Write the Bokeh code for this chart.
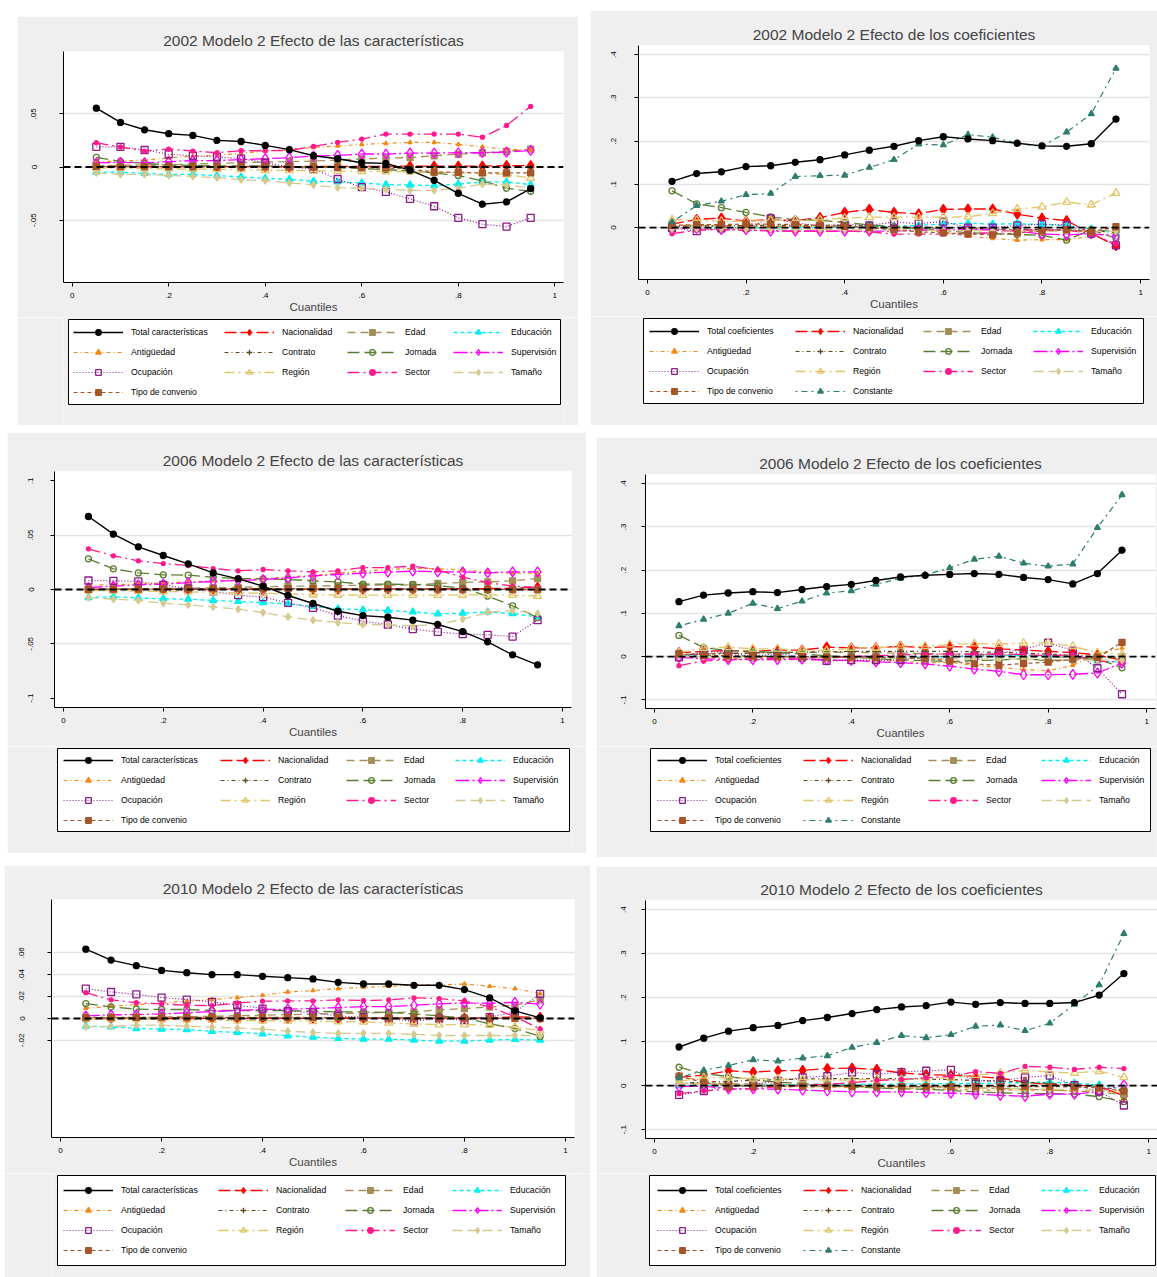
from bokeh.plotting import figure
from bokeh.layouts import column, row
from bokeh.models import (Spacer, Span, Legend, LegendItem, FixedTicker, Range1d,
                          CustomJSTickFormatter, BoxAnnotation)
from bokeh.embed import file_html
from bokeh.resources import INLINE

# ---------------------------------------------------------------- data
cuantiles = [0.05, 0.10, 0.15, 0.20, 0.25, 0.30, 0.35, 0.40, 0.45, 0.50,
             0.55, 0.60, 0.65, 0.70, 0.75, 0.80, 0.85, 0.90, 0.95]

# 2002 - efecto de las características
car02_total = [0.0553, 0.0419, 0.0350, 0.0313, 0.0297, 0.0250, 0.0240, 0.0203, 0.0163, 0.0106, 0.0078, 0.0040, 0.0034, -0.0030, -0.0125, -0.0247, -0.0350, -0.0328, -0.0203]
car02_nacionalidad = [0.0003, 0.0003, 0.0002, 0.0003, 0.0004, 0.0003, 0.0004, 0.0004, 0.0004, 0.0005, 0.0005, 0.0006, 0.0007, 0.0008, 0.0008, 0.0009, 0.0009, 0.0013, 0.0012]
car02_edad = [0.0010, 0.0016, 0.0020, 0.0020, 0.0030, 0.0034, 0.0040, 0.0047, 0.0050, 0.0056, 0.0066, 0.0075, 0.0084, 0.0088, 0.0106, 0.0120, 0.0134, 0.0147, 0.0169]
car02_educacion = [-0.0047, -0.0050, -0.0060, -0.0070, -0.0070, -0.0080, -0.0094, -0.0106, -0.0116, -0.0134, -0.0140, -0.0150, -0.0166, -0.0169, -0.0175, -0.0160, -0.0140, -0.0140, -0.0166]
car02_antiguedad = [0.0050, 0.0056, 0.0066, 0.0084, 0.0103, 0.0110, 0.0128, 0.0150, 0.0163, 0.0184, 0.0197, 0.0213, 0.0222, 0.0231, 0.0231, 0.0213, 0.0190, 0.0166, 0.0163]
car02_contrato = [0.0010, 0.0008, 0.0008, 0.0007, 0.0007, 0.0006, 0.0006, 0.0005, 0.0005, 0.0004, 0.0004, 0.0003, 0.0002, 0.0001, 0.0000, -0.0002, -0.0003, -0.0004, -0.0005]
car02_jornada = [0.0090, 0.0053, 0.0034, 0.0020, 0.0016, 0.0010, 0.0010, 0.0010, 0.0003, 0.0000, -0.0006, -0.0016, -0.0025, -0.0037, -0.0056, -0.0080, -0.0130, -0.0200, -0.0228]
car02_supervision = [0.0038, 0.0044, 0.0040, 0.0050, 0.0060, 0.0060, 0.0070, 0.0078, 0.0088, 0.0103, 0.0110, 0.0122, 0.0122, 0.0131, 0.0131, 0.0134, 0.0134, 0.0140, 0.0156]
car02_ocupacion = [0.0190, 0.0190, 0.0160, 0.0120, 0.0106, 0.0094, 0.0078, 0.0040, 0.0003, -0.0020, -0.0113, -0.0190, -0.0234, -0.0300, -0.0369, -0.0478, -0.0538, -0.0560, -0.0478]
car02_region = [-0.0010, -0.0012, -0.0015, -0.0018, -0.0020, -0.0022, -0.0025, -0.0030, -0.0032, -0.0035, -0.0038, -0.0040, -0.0042, -0.0045, -0.0050, -0.0055, -0.0060, -0.0070, -0.0103]
car02_sector = [0.0228, 0.0188, 0.0150, 0.0169, 0.0150, 0.0134, 0.0153, 0.0153, 0.0156, 0.0194, 0.0231, 0.0263, 0.0310, 0.0310, 0.0310, 0.0310, 0.0280, 0.0390, 0.0570]
car02_tamano = [-0.0056, -0.0070, -0.0070, -0.0080, -0.0088, -0.0100, -0.0120, -0.0128, -0.0150, -0.0169, -0.0194, -0.0200, -0.0210, -0.0219, -0.0219, -0.0200, -0.0160, -0.0170, -0.0197]
car02_convenio = [0.0005, 0.0004, 0.0004, 0.0003, 0.0003, 0.0002, 0.0002, 0.0001, 0.0000, -0.0002, -0.0004, -0.0006, -0.0010, -0.0020, -0.0047, -0.0050, -0.0056, -0.0056, -0.0056]

# 2002 - efecto de los coeficientes
coe02_total = [0.107, 0.125, 0.129, 0.141, 0.143, 0.151, 0.157, 0.168, 0.179, 0.188, 0.201, 0.210, 0.205, 0.201, 0.195, 0.189, 0.188, 0.194, 0.251]
coe02_nacionalidad = [0.008, 0.019, 0.022, 0.015, 0.019, 0.016, 0.023, 0.035, 0.042, 0.035, 0.032, 0.042, 0.043, 0.043, 0.031, 0.022, 0.016, -0.014, -0.042]
coe02_edad = [0.003, 0.004, 0.004, 0.004, 0.003, 0.003, 0.002, 0.002, 0.001, 0.000, -0.001, -0.002, -0.003, -0.004, -0.005, -0.006, -0.007, -0.008, -0.005]
coe02_educacion = [-0.002, -0.002, -0.001, -0.001, 0.000, 0.000, 0.001, 0.002, 0.002, 0.003, 0.005, 0.008, 0.010, 0.008, 0.009, 0.007, 0.005, -0.003, -0.012]
coe02_antiguedad = [0.005, 0.006, 0.005, 0.004, 0.004, 0.003, 0.002, 0.002, 0.001, -0.002, -0.005, -0.010, -0.020, -0.025, -0.029, -0.028, -0.028, -0.020, -0.012]
coe02_contrato = [0.003, 0.004, 0.004, 0.005, 0.005, 0.005, 0.005, 0.005, 0.004, 0.002, 0.001, 0.000, -0.002, -0.003, -0.004, -0.005, -0.005, -0.008, -0.010]
coe02_jornada = [0.085, 0.055, 0.046, 0.035, 0.025, 0.018, 0.017, 0.012, 0.006, 0.002, -0.002, -0.006, -0.012, -0.014, -0.016, -0.018, -0.029, -0.005, -0.025]
coe02_supervision = [-0.002, -0.002, -0.005, -0.005, -0.008, -0.008, -0.008, -0.008, -0.008, -0.008, -0.006, -0.006, -0.004, -0.006, -0.008, -0.015, -0.017, -0.014, -0.020]
coe02_ocupacion = [-0.001, -0.008, -0.002, 0.000, 0.021, 0.011, 0.004, 0.008, 0.005, 0.013, 0.009, 0.014, 0.000, 0.000, 0.005, 0.008, 0.006, -0.014, -0.041]
coe02_region = [0.018, 0.017, 0.015, 0.015, 0.017, 0.017, 0.018, 0.022, 0.024, 0.024, 0.024, 0.024, 0.025, 0.033, 0.043, 0.048, 0.059, 0.053, 0.080]
coe02_sector = [-0.014, -0.006, -0.004, -0.006, -0.007, -0.008, -0.008, -0.008, -0.010, -0.015, -0.015, -0.015, -0.014, -0.012, -0.006, -0.006, -0.006, -0.014, -0.038]
coe02_tamano = [-0.003, -0.002, -0.002, -0.003, -0.003, -0.004, -0.004, -0.005, -0.005, -0.006, -0.006, -0.007, -0.007, -0.008, -0.008, -0.008, -0.008, -0.008, -0.008]
coe02_convenio = [0.005, 0.007, 0.007, 0.008, 0.008, 0.007, 0.005, 0.003, 0.000, -0.005, -0.010, -0.012, -0.015, -0.017, -0.012, -0.008, -0.005, -0.010, 0.002]
coe02_constante = [0.013, 0.051, 0.061, 0.076, 0.079, 0.118, 0.120, 0.121, 0.139, 0.157, 0.193, 0.191, 0.215, 0.209, 0.195, 0.187, 0.221, 0.263, 0.368]

# 2006 - efecto de las características
car06_total = [0.0672, 0.0509, 0.0393, 0.0313, 0.0236, 0.0153, 0.0098, 0.0031, -0.0055, -0.0129, -0.0200, -0.0240, -0.0255, -0.0282, -0.0322, -0.0387, -0.0482, -0.0601, -0.0693]
car06_nacionalidad = [0.0000, 0.0000, 0.0001, 0.0001, 0.0001, 0.0001, 0.0002, 0.0002, 0.0002, 0.0003, 0.0003, 0.0004, 0.0005, 0.0006, 0.0007, 0.0008, 0.0009, 0.0012, 0.0020]
car06_edad = [0.0000, 0.0003, 0.0006, 0.0010, 0.0013, 0.0016, 0.0020, 0.0025, 0.0030, 0.0033, 0.0035, 0.0040, 0.0040, 0.0042, 0.0055, 0.0065, 0.0070, 0.0080, 0.0101]
car06_educacion = [-0.0074, -0.0067, -0.0077, -0.0086, -0.0089, -0.0101, -0.0110, -0.0120, -0.0132, -0.0156, -0.0178, -0.0187, -0.0193, -0.0206, -0.0224, -0.0218, -0.0206, -0.0221, -0.0252]
car06_antiguedad = [0.0040, 0.0045, 0.0050, 0.0060, 0.0070, 0.0080, 0.0090, 0.0100, 0.0115, 0.0130, 0.0150, 0.0170, 0.0185, 0.0195, 0.0190, 0.0180, 0.0160, 0.0150, 0.0150]
car06_contrato = [0.0002, 0.0002, 0.0003, 0.0003, 0.0004, 0.0004, 0.0005, 0.0005, 0.0005, 0.0005, 0.0004, 0.0004, 0.0003, 0.0003, 0.0002, 0.0002, 0.0001, 0.0000, -0.0002]
car06_jornada = [0.0282, 0.0190, 0.0153, 0.0135, 0.0132, 0.0113, 0.0101, 0.0098, 0.0092, 0.0080, 0.0070, 0.0049, 0.0049, 0.0046, 0.0037, 0.0012, -0.0061, -0.0150, -0.0258]
car06_supervision = [0.0018, 0.0031, 0.0043, 0.0049, 0.0064, 0.0074, 0.0083, 0.0092, 0.0107, 0.0126, 0.0138, 0.0150, 0.0160, 0.0169, 0.0163, 0.0163, 0.0153, 0.0163, 0.0163]
car06_ocupacion = [0.0083, 0.0080, 0.0074, 0.0043, 0.0009, -0.0018, -0.0052, -0.0070, -0.0123, -0.0169, -0.0240, -0.0291, -0.0322, -0.0365, -0.0390, -0.0411, -0.0417, -0.0433, -0.0282]
car06_region = [-0.0010, -0.0012, -0.0015, -0.0018, -0.0022, -0.0026, -0.0030, -0.0035, -0.0040, -0.0048, -0.0050, -0.0052, -0.0052, -0.0052, -0.0052, -0.0050, -0.0050, -0.0052, -0.0060]
car06_sector = [0.0374, 0.0310, 0.0264, 0.0239, 0.0221, 0.0193, 0.0172, 0.0184, 0.0172, 0.0163, 0.0172, 0.0202, 0.0202, 0.0215, 0.0181, 0.0113, 0.0064, 0.0031, 0.0018]
car06_tamano = [-0.0074, -0.0089, -0.0101, -0.0126, -0.0141, -0.0160, -0.0181, -0.0212, -0.0252, -0.0282, -0.0304, -0.0322, -0.0325, -0.0334, -0.0322, -0.0273, -0.0209, -0.0193, -0.0221]
car06_convenio = [0.0002, 0.0003, 0.0004, 0.0005, 0.0006, 0.0007, 0.0008, 0.0008, 0.0008, 0.0008, 0.0007, 0.0006, 0.0005, 0.0004, 0.0003, 0.0002, 0.0001, 0.0000, -0.0002]

# 2006 - efecto de los coeficientes
coe06_total = [0.127, 0.142, 0.147, 0.150, 0.148, 0.155, 0.162, 0.167, 0.176, 0.184, 0.188, 0.190, 0.192, 0.190, 0.183, 0.178, 0.168, 0.192, 0.246]
coe06_nacionalidad = [0.009, 0.012, 0.014, 0.012, 0.015, 0.015, 0.022, 0.020, 0.020, 0.024, 0.020, 0.023, 0.022, 0.018, 0.015, 0.012, 0.009, 0.004, -0.009]
coe06_edad = [0.004, 0.006, 0.008, 0.009, 0.010, 0.010, 0.010, 0.010, 0.009, 0.008, 0.007, 0.006, 0.005, 0.004, 0.002, 0.000, -0.002, -0.004, 0.000]
coe06_educacion = [0.003, 0.002, 0.002, 0.001, 0.001, 0.000, 0.000, 0.000, -0.001, -0.001, -0.001, 0.000, 0.001, 0.002, 0.003, 0.002, 0.000, -0.010, -0.013]
coe06_antiguedad = [0.000, -0.002, -0.004, -0.007, -0.007, -0.007, -0.008, -0.009, -0.010, -0.010, -0.015, -0.013, -0.020, -0.025, -0.030, -0.033, -0.020, 0.005, 0.020]
coe06_contrato = [0.005, 0.006, 0.007, 0.008, 0.009, 0.010, 0.011, 0.012, 0.012, 0.012, 0.012, 0.012, 0.011, 0.010, 0.008, 0.006, 0.003, 0.000, -0.005]
coe06_jornada = [0.049, 0.021, 0.014, 0.012, 0.009, 0.006, 0.002, -0.002, -0.005, -0.008, -0.009, -0.012, -0.009, -0.008, -0.005, -0.009, -0.008, -0.005, -0.026]
coe06_supervision = [-0.002, -0.005, -0.007, -0.007, -0.007, -0.006, -0.008, -0.009, -0.012, -0.014, -0.017, -0.022, -0.029, -0.034, -0.042, -0.042, -0.041, -0.038, -0.015]
coe06_ocupacion = [-0.002, 0.012, 0.009, 0.000, 0.008, -0.002, -0.010, -0.008, -0.008, -0.008, 0.000, 0.001, 0.001, 0.008, 0.017, 0.032, 0.014, -0.027, -0.087]
coe06_region = [0.009, 0.020, 0.022, 0.018, 0.018, 0.015, 0.014, 0.020, 0.020, 0.025, 0.024, 0.028, 0.030, 0.029, 0.031, 0.032, 0.024, 0.009, 0.005]
coe06_sector = [-0.021, -0.010, -0.008, -0.005, -0.005, -0.003, -0.002, 0.000, 0.002, 0.004, 0.005, 0.006, 0.006, 0.006, 0.005, 0.002, 0.004, -0.011, -0.013]
coe06_tamano = [0.001, 0.000, -0.001, -0.001, -0.002, -0.002, -0.003, -0.003, -0.004, -0.004, -0.005, -0.005, -0.006, -0.006, -0.006, -0.007, -0.007, -0.008, -0.008]
coe06_convenio = [0.007, 0.003, 0.002, 0.001, 0.000, 0.000, -0.001, -0.001, -0.002, -0.003, -0.004, -0.010, -0.017, -0.020, -0.016, -0.013, -0.006, -0.002, 0.033]
coe06_constante = [0.071, 0.086, 0.100, 0.123, 0.111, 0.128, 0.147, 0.152, 0.167, 0.181, 0.189, 0.205, 0.225, 0.232, 0.216, 0.209, 0.214, 0.298, 0.374]

# 2010 - efecto de las características
car10_total = [0.0633, 0.0533, 0.0482, 0.0439, 0.0418, 0.0400, 0.0400, 0.0385, 0.0373, 0.0361, 0.0330, 0.0315, 0.0315, 0.0303, 0.0303, 0.0264, 0.0188, 0.0070, 0.0006]
car10_nacionalidad = [0.0000, 0.0000, 0.0001, 0.0001, 0.0001, 0.0001, 0.0002, 0.0002, 0.0002, 0.0002, 0.0002, 0.0003, 0.0003, 0.0003, 0.0004, 0.0004, 0.0005, 0.0015, 0.0010]
car10_edad = [0.0000, 0.0005, 0.0008, 0.0012, 0.0016, 0.0020, 0.0025, 0.0030, 0.0035, 0.0040, 0.0045, 0.0050, 0.0055, 0.0060, 0.0080, 0.0090, 0.0105, 0.0120, 0.0170]
car10_educacion = [-0.0070, -0.0076, -0.0091, -0.0097, -0.0100, -0.0118, -0.0127, -0.0139, -0.0158, -0.0170, -0.0182, -0.0188, -0.0188, -0.0197, -0.0206, -0.0206, -0.0197, -0.0191, -0.0197]
car10_antiguedad = [0.0094, 0.0112, 0.0127, 0.0142, 0.0158, 0.0173, 0.0191, 0.0212, 0.0242, 0.0255, 0.0273, 0.0285, 0.0294, 0.0306, 0.0306, 0.0315, 0.0294, 0.0273, 0.0227]
car10_contrato = [0.0005, 0.0005, 0.0006, 0.0006, 0.0006, 0.0006, 0.0006, 0.0006, 0.0005, 0.0005, 0.0005, 0.0004, 0.0004, 0.0003, 0.0003, 0.0002, 0.0001, 0.0000, -0.0002]
car10_jornada = [0.0136, 0.0106, 0.0085, 0.0082, 0.0082, 0.0073, 0.0073, 0.0073, 0.0073, 0.0067, 0.0060, 0.0060, 0.0055, 0.0042, 0.0024, 0.0006, -0.0048, -0.0091, -0.0164]
car10_supervision = [0.0024, 0.0033, 0.0036, 0.0042, 0.0052, 0.0064, 0.0073, 0.0082, 0.0085, 0.0091, 0.0100, 0.0109, 0.0109, 0.0121, 0.0133, 0.0142, 0.0139, 0.0148, 0.0130]
car10_ocupacion = [0.0273, 0.0242, 0.0221, 0.0191, 0.0173, 0.0152, 0.0121, 0.0091, 0.0067, 0.0055, 0.0024, 0.0012, -0.0003, -0.0024, 0.0000, -0.0015, 0.0012, 0.0060, 0.0224]
car10_region = [0.0000, -0.0003, -0.0006, -0.0009, -0.0012, -0.0015, -0.0018, -0.0020, -0.0022, -0.0025, -0.0028, -0.0030, -0.0040, -0.0050, -0.0055, -0.0055, -0.0060, -0.0080, -0.0110]
car10_sector = [0.0236, 0.0170, 0.0145, 0.0133, 0.0121, 0.0118, 0.0142, 0.0158, 0.0160, 0.0160, 0.0170, 0.0164, 0.0170, 0.0188, 0.0182, 0.0160, 0.0106, 0.0015, -0.0094]
car10_tamano = [-0.0076, -0.0073, -0.0061, -0.0061, -0.0070, -0.0079, -0.0088, -0.0097, -0.0115, -0.0127, -0.0136, -0.0136, -0.0136, -0.0145, -0.0155, -0.0155, -0.0155, -0.0155, -0.0155]
car10_convenio = [0.0010, 0.0010, 0.0011, 0.0011, 0.0011, 0.0011, 0.0010, 0.0010, 0.0010, 0.0009, 0.0008, 0.0007, 0.0006, 0.0005, 0.0004, 0.0003, 0.0002, 0.0001, 0.0000]

# 2010 - efecto de los coeficientes
coe10_total = [0.088, 0.108, 0.124, 0.132, 0.137, 0.148, 0.155, 0.164, 0.173, 0.179, 0.182, 0.190, 0.185, 0.189, 0.187, 0.187, 0.189, 0.206, 0.255]
coe10_nacionalidad = [0.019, 0.024, 0.034, 0.031, 0.034, 0.035, 0.039, 0.040, 0.037, 0.029, 0.025, 0.024, 0.021, 0.017, 0.008, 0.002, 0.002, -0.002, -0.023]
coe10_edad = [0.005, 0.005, 0.004, 0.004, 0.003, 0.002, 0.001, 0.000, -0.001, -0.002, -0.003, -0.004, -0.005, -0.006, -0.008, -0.010, -0.012, -0.015, -0.020]
coe10_educacion = [0.000, 0.000, 0.001, 0.001, 0.002, 0.002, 0.002, 0.003, 0.003, 0.004, 0.004, 0.005, 0.005, 0.006, 0.007, 0.008, 0.006, 0.002, -0.008]
coe10_antiguedad = [0.020, 0.012, 0.005, 0.000, -0.002, -0.003, -0.003, -0.004, -0.004, -0.005, -0.007, -0.008, -0.010, -0.010, -0.010, -0.010, -0.012, -0.012, -0.015]
coe10_contrato = [0.005, 0.008, 0.010, 0.012, 0.014, 0.015, 0.016, 0.016, 0.016, 0.016, 0.015, 0.014, 0.012, 0.010, 0.008, 0.005, 0.002, -0.003, -0.010]
coe10_jornada = [0.042, 0.027, 0.021, 0.013, 0.008, 0.005, 0.002, -0.002, -0.005, -0.007, -0.008, -0.011, -0.014, -0.016, -0.018, -0.018, -0.019, -0.025, -0.036]
coe10_supervision = [-0.002, -0.001, -0.007, -0.007, -0.008, -0.010, -0.012, -0.014, -0.014, -0.014, -0.016, -0.017, -0.019, -0.022, -0.024, -0.019, -0.019, -0.013, 0.002]
coe10_ocupacion = [-0.021, -0.012, -0.001, 0.003, 0.011, 0.019, 0.022, 0.030, 0.026, 0.031, 0.034, 0.036, 0.011, 0.012, 0.019, 0.023, 0.001, -0.013, -0.045]
coe10_region = [0.010, 0.018, 0.018, 0.016, 0.016, 0.014, 0.013, 0.013, 0.015, 0.015, 0.016, 0.018, 0.024, 0.029, 0.035, 0.031, 0.029, 0.033, 0.019]
coe10_sector = [-0.018, -0.012, -0.008, -0.007, -0.002, 0.001, 0.003, 0.007, 0.012, 0.014, 0.018, 0.021, 0.032, 0.028, 0.044, 0.042, 0.037, 0.042, 0.039]
coe10_tamano = [0.005, 0.004, 0.003, 0.002, 0.001, 0.000, 0.000, -0.001, -0.002, -0.003, -0.003, -0.004, -0.005, -0.006, -0.007, -0.008, -0.009, -0.010, -0.012]
coe10_convenio = [0.022, 0.007, -0.001, -0.001, -0.001, -0.001, -0.001, -0.002, -0.002, -0.002, -0.002, -0.002, -0.002, -0.002, -0.002, -0.002, -0.003, -0.005, -0.012]
coe10_constante = [0.018, 0.035, 0.046, 0.059, 0.056, 0.063, 0.068, 0.087, 0.098, 0.114, 0.109, 0.116, 0.135, 0.138, 0.125, 0.142, 0.185, 0.229, 0.346]

x_ticks = [0, 0.2, 0.4, 0.6, 0.8, 1]
y_ticks_car02 = [-0.05, 0, 0.05]
y_ticks_car06 = [-0.1, -0.05, 0, 0.05, 0.1]
y_ticks_car10 = [-0.02, 0, 0.02, 0.04, 0.06]
y_ticks_coe02 = [0, 0.1, 0.2, 0.3, 0.4]
y_ticks_coe = [-0.1, 0, 0.1, 0.2, 0.3, 0.4]

# ---------------------------------------------------------------- styles
FONT = "Liberation Sans"
PANEL_BG = "#efefef"
ROW = 20  # height of one key row

STYLE = {
    "Total":            dict(color="#000000", dash="solid",      lw=1.4, marker="circle",   size=6,  fill=True),
    "Nacionalidad":     dict(color="#ff0000", dash="12 4",       lw=1.3, marker="diamond",  size=10, fill=True),
    "Edad":             dict(color="#a38f58", dash="8 5",        lw=1.3, marker="square",   size=6,  fill=True),
    "Educación":        dict(color="#00f0f0", dash="4 3",        lw=1.3, marker="triangle", size=7,  fill=True),
    "Antigüedad":       dict(color="#ef8a1a", dash="4 3 1 3",    lw=1.2, marker="triangle", size=4,  fill=True),
    "Contrato":         dict(color="#5c4a1e", dash="4 3 1 3",    lw=1.2, marker="cross",    size=7,  fill=True),
    "Jornada":          dict(color="#5b7d33", dash="12 5",       lw=1.3, marker="circle",   size=6,  fill=False),
    "Supervisión":      dict(color="#ff00ff", dash="14 3 2 3",   lw=1.3, marker="diamond",  size=10, fill=False),
    "Ocupación":        dict(color="#8b1a8b", dash="1 2",        lw=1.2, marker="square",   size=7,  fill=False),
    "Región":           dict(color="#e0c56a", dash="10 4 2 4",   lw=1.3, marker="triangle", size=8,  fill=False),
    "Sector":           dict(color="#ff1a8c", dash="12 4 2 4",   lw=1.3, marker="circle",   size=4,  fill=True),
    "Tamaño":           dict(color="#d4c98f", dash="10 5",       lw=1.3, marker="diamond",  size=7,  fill=True),
    "Tipo de convenio": dict(color="#a5562a", dash="4 3",        lw=1.2, marker="square",   size=6,  fill=True),
    "Constante":        dict(color="#2e7d6e", dash="2 4 6 4",    lw=1.2, marker="triangle", size=6,  fill=True),
}

TICK_JS = """
const s = String(Math.round(tick * 1000) / 1000);
return s.replace(/^(-?)0\\./, "$1.");
"""


def style_kwargs(name):
    st = STYLE[name]
    line_kw = dict(line_color=st["color"], line_width=st["lw"], line_dash=st["dash"])
    mark_kw = dict(marker=st["marker"], size=st["size"], line_color=st["color"],
                   line_width=1.3,
                   fill_color=st["color"] if st["fill"] else "white",
                   fill_alpha=1.0 if st["fill"] else 0.0)
    return line_kw, mark_kw


def make_chart(title, series, geom, y_range, y_ticks, grid_ticks, y_standoff):
    w, h, b_left, b_top, b_right, b_bottom = geom
    p = figure(width=w, height=h, output_backend="svg", toolbar_location=None,
               x_range=Range1d(-0.018, 1.018), y_range=Range1d(*y_range),
               min_border_left=b_left, min_border_top=b_top,
               min_border_right=b_right, min_border_bottom=b_bottom,
               title=title)
    p.border_fill_color = PANEL_BG
    p.background_fill_color = "white"
    p.outline_line_color = None

    p.title.text_font = FONT
    p.title.text_font_size = "15.5px"
    p.title.text_font_style = "normal"
    p.title.align = "center"
    p.title.standoff = 5

    fmt = CustomJSTickFormatter(code=TICK_JS)
    p.xaxis.ticker = FixedTicker(ticks=x_ticks)
    p.yaxis.ticker = FixedTicker(ticks=y_ticks)
    for ax in (p.xaxis[0], p.yaxis[0]):
        ax.formatter = fmt
        ax.axis_line_color = "black"
        ax.axis_line_width = 1
        ax.major_tick_line_color = "black"
        ax.major_tick_out = 4
        ax.major_tick_in = 0
        ax.minor_tick_line_color = None
        ax.major_label_text_font = FONT
        ax.major_label_text_font_size = "8px"
        ax.major_label_text_color = "black"
    p.yaxis.major_label_orientation = "vertical"
    p.yaxis.major_label_standoff = y_standoff
    p.xaxis.major_label_standoff = 6
    p.xaxis.axis_label = "Cuantiles"
    p.xaxis.axis_label_text_font = FONT
    p.xaxis.axis_label_text_font_size = "11.5px"
    p.xaxis.axis_label_text_font_style = "normal"
    p.xaxis.axis_label_standoff = 0

    p.xgrid.visible = False
    p.ygrid.ticker = FixedTicker(ticks=grid_ticks)
    p.ygrid.grid_line_color = "#e4e4e4"
    p.ygrid.grid_line_width = 1.5

    order = [k for k in series if k != "Total"] + ["Total"]
    for name in order:
        line_kw, mark_kw = style_kwargs(name)
        p.line(cuantiles, series[name], **line_kw)
        p.scatter(cuantiles, series[name], **mark_kw)

    p.add_layout(Span(location=0, dimension="width", line_color="black",
                      line_dash="7 4", line_width=1.8))
    return p


def make_key(series, total_label, width, b_left, b_right, geom):
    # the key: a bare plot scaled one unit per pixel (x measured from the
    # panel's left edge), holding a framed box and four legend columns
    # laid out row by row in the series order
    fig_h, box_left, box_top, box_w, box_h, col_x = geom
    lg = figure(width=width, height=fig_h, output_backend="svg", toolbar_location=None,
                x_range=Range1d(b_left, width - b_right), y_range=Range1d(0, fig_h),
                x_axis_type=None, y_axis_type=None,
                min_border_left=b_left, min_border_right=b_right,
                min_border_top=0, min_border_bottom=0)
    lg.border_fill_color = PANEL_BG
    lg.background_fill_color = PANEL_BG
    lg.outline_line_color = None

    top_y = fig_h - box_top
    lg.add_layout(BoxAnnotation(left=box_left, right=box_left + box_w,
                                top=top_y, bottom=top_y - box_h,
                                fill_color="white", fill_alpha=1.0,
                                line_color="black", line_alpha=1.0,
                                line_width=1, line_dash="solid"))

    names = list(series)
    first_row_top = box_top + (box_h - 4 * ROW) / 2
    for c in range(4):
        col_names = names[c::4]
        items = []
        for name in col_names:
            line_kw, mark_kw = style_kwargs(name)
            lr = lg.line(cuantiles, series[name], visible=False, **line_kw)
            sr = lg.scatter(cuantiles, series[name], visible=False, **mark_kw)
            label = total_label if name == "Total" else name
            items.append(LegendItem(label=label, renderers=[lr, sr]))
        bottom = fig_h - first_row_top - len(col_names) * ROW
        lg.add_layout(Legend(items=items, orientation="vertical",
                             location=(box_left + col_x[c] - b_left, bottom),
                             border_line_color=None, background_fill_alpha=0.0,
                             padding=0, spacing=0, margin=0,
                             glyph_width=50, glyph_height=14, label_height=ROW,
                             label_standoff=8, label_text_font=FONT,
                             label_text_font_size="8.7px", label_text_color="black",
                             inactive_fill_alpha=0.0))
    return lg


def caract(total, nac, edad, edu, ant, con, jor, sup, ocu, reg, sec, tam, conv):
    return {"Total": total, "Nacionalidad": nac, "Edad": edad, "Educación": edu,
            "Antigüedad": ant, "Contrato": con, "Jornada": jor, "Supervisión": sup,
            "Ocupación": ocu, "Región": reg, "Sector": sec, "Tamaño": tam,
            "Tipo de convenio": conv}


def coef(total, nac, edad, edu, ant, con, jor, sup, ocu, reg, sec, tam, conv, cte):
    d = caract(total, nac, edad, edu, ant, con, jor, sup, ocu, reg, sec, tam, conv)
    d["Constante"] = cte
    return d


def panel(title, total_label, series, w, chart_h, borders, y_range,
          y_ticks, grid_ticks, y_standoff, key_geom):
    b_left, b_top, b_right, b_bottom = borders
    chart = make_chart(title, series, (w, chart_h, b_left, b_top, b_right, b_bottom),
                       y_range, y_ticks, grid_ticks, y_standoff)
    key = make_key(series, total_label, w, b_left, b_right, key_geom)
    return column(chart, key)


Y_CAR = (-0.1086, 0.1086)
Y_COE = (-0.12, 0.421)

s1 = caract(car02_total, car02_nacionalidad, car02_edad, car02_educacion,
            car02_antiguedad, car02_contrato, car02_jornada, car02_supervision,
            car02_ocupacion, car02_region, car02_sector, car02_tamano, car02_convenio)
s2 = coef(coe02_total, coe02_nacionalidad, coe02_edad, coe02_educacion,
          coe02_antiguedad, coe02_contrato, coe02_jornada, coe02_supervision,
          coe02_ocupacion, coe02_region, coe02_sector, coe02_tamano, coe02_convenio,
          coe02_constante)
s3 = caract(car06_total, car06_nacionalidad, car06_edad, car06_educacion,
            car06_antiguedad, car06_contrato, car06_jornada, car06_supervision,
            car06_ocupacion, car06_region, car06_sector, car06_tamano, car06_convenio)
s4 = coef(coe06_total, coe06_nacionalidad, coe06_edad, coe06_educacion,
          coe06_antiguedad, coe06_contrato, coe06_jornada, coe06_supervision,
          coe06_ocupacion, coe06_region, coe06_sector, coe06_tamano, coe06_convenio,
          coe06_constante)
s5 = caract(car10_total, car10_nacionalidad, car10_edad, car10_educacion,
            car10_antiguedad, car10_contrato, car10_jornada, car10_supervision,
            car10_ocupacion, car10_region, car10_sector, car10_tamano, car10_convenio)
s6 = coef(coe10_total, coe10_nacionalidad, coe10_edad, coe10_educacion,
          coe10_antiguedad, coe10_contrato, coe10_jornada, coe10_supervision,
          coe10_ocupacion, coe10_region, coe10_sector, coe10_tamano, coe10_convenio,
          coe10_constante)

TC, TK = "Total características", "Total coeficientes"
g1 = panel("2002 Modelo 2 Efecto de las características", TC, s1, 561, 301,
           (46, 35, 15, 35), Y_CAR, y_ticks_car02, y_ticks_car02, 23,
           (108, 51, 2, 492, 85, (5, 156, 279, 385)))
g2 = panel("2002 Modelo 2 Efecto de los coeficientes", TK, s2, 567, 306,
           (48, 35, 8, 37), Y_COE, y_ticks_coe02, y_ticks_coe02, 18,
           (109, 53, 2, 500, 85, (6, 152, 280, 390)))
g3 = panel("2006 Modelo 2 Efecto de las características", TC, s3, 579, 314,
           (47, 39, 15, 39), Y_CAR, y_ticks_car06, [-0.05, 0, 0.05], 17,
           (107, 50, 2, 512, 83, (6, 163, 289, 398)))
g4 = panel("2006 Modelo 2 Efecto de los coeficientes", TK, s4, 561, 309,
           (49, 37, 2, 38), Y_COE, y_ticks_coe, y_ticks_coe, 15,
           (111, 54, 2, 500, 83, (7, 153, 278, 391)))
g5 = panel("2010 Modelo 2 Efecto de las características", TC, s5, 586, 308,
           (47, 34, 16, 36), Y_CAR, y_ticks_car10, y_ticks_car10, 23,
           (104, 53, 2, 508, 90, (6, 161, 288, 395)))
g6 = panel("2010 Modelo 2 Efecto de los coeficientes", TK, s6, 561, 307,
           (49, 34, 0, 35), Y_COE, y_ticks_coe, y_ticks_coe, 15,
           (104, 53, 2, 506, 90, (8, 154, 282, 392)))

r1 = row(Spacer(width=17), column(Spacer(height=16), g1), Spacer(width=12),
         column(Spacer(height=10), g2))
r2 = row(Spacer(width=7), column(Spacer(height=7), g3), Spacer(width=10),
         column(Spacer(height=12), g4))
r3 = row(Spacer(width=4), column(Spacer(height=8), g5), Spacer(width=6),
         column(Spacer(height=9), g6))
page = column(r1, r2, r3)

open("out.html", "w").write(file_html(page, INLINE))
